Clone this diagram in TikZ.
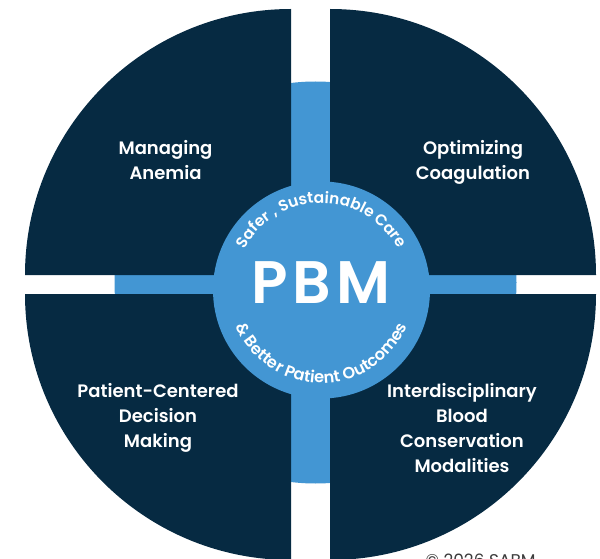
\documentclass[tikz,border=0pt]{standalone}
\usepackage{fontspec}
\setmainfont{Poppins}[BoldFont={Poppins SemiBold}]
\usetikzlibrary{decorations.text}
\definecolor{pbmnavy}{HTML}{062A42}
\definecolor{pbmblue}{HTML}{4396D3}
\definecolor{pbmgray}{HTML}{3C3C3C}

\begin{document}
\begin{tikzpicture}[x=1pt, y=1pt,
	quadtext/.style={text=white, font=\bfseries\fontsize{18}{25}\selectfont, align=center},
	quarter/.style={fill=pbmnavy}]
	\useasboundingbox (0,0) rectangle (600,-559);
	\clip (0,0) rectangle (600,-559);
	
	\fill[pbmblue] (315.5,-282.5) circle (201);
	
	\fill[quarter] (291,-275) -- ++(-266,0) arc (180:90:266) -- cycle;
	\fill[quarter] (330,-275) -- ++(0,266) arc (90:0:266) -- cycle;
	\fill[quarter] (291,-294) -- ++(-266,0) arc (180:270:266) -- cycle;
	\fill[quarter] (330,-294) -- ++(266,0) arc (0:-90:266) -- cycle;
	
	\fill[pbmblue] (321.5,-290) circle (108.5);
	\node[text=white, font=\bfseries\fontsize{60}{60}\selectfont] (pbm) at (321,-283) {P\kern5pt B\kern5pt M};
	
	\path[shift={(321.5,-290)}, decorate, decoration={text along path, text align=center,
		text={|\bfseries\fontsize{15.5}{15.5}\selectfont\color{white}|Safer , Sustainable Care}}]
		(178:87) arc (178:2:87);
	\path[shift={(321.5,-290)}, decorate, decoration={text along path, text align=center,
		text={|\bfseries\fontsize{16.2}{16.2}\selectfont\color{white}|{\&} Better Patient Outcomes}}]
		(182:93) arc (182:358:93);
	
	\node[quadtext] (anemia) at (165.5,-160.5) {Managing\\Anemia};
	\node[quadtext] (coag) at (473,-162.5) {Optimizing\\Coagulation};
	\node[quadtext] (decision) at (158,-417.5) {Patient-Centered\\Decision\\Making};
	\node[quadtext] (conserve) at (462,-428) {Interdisciplinary\\Blood\\Conservation\\Modalities};
	
	\node[text=pbmgray, font=\fontsize{17}{17}\selectfont, anchor=base west] (copy) at (422,-566) {© 2026 SABM};
\end{tikzpicture}
\end{document}
